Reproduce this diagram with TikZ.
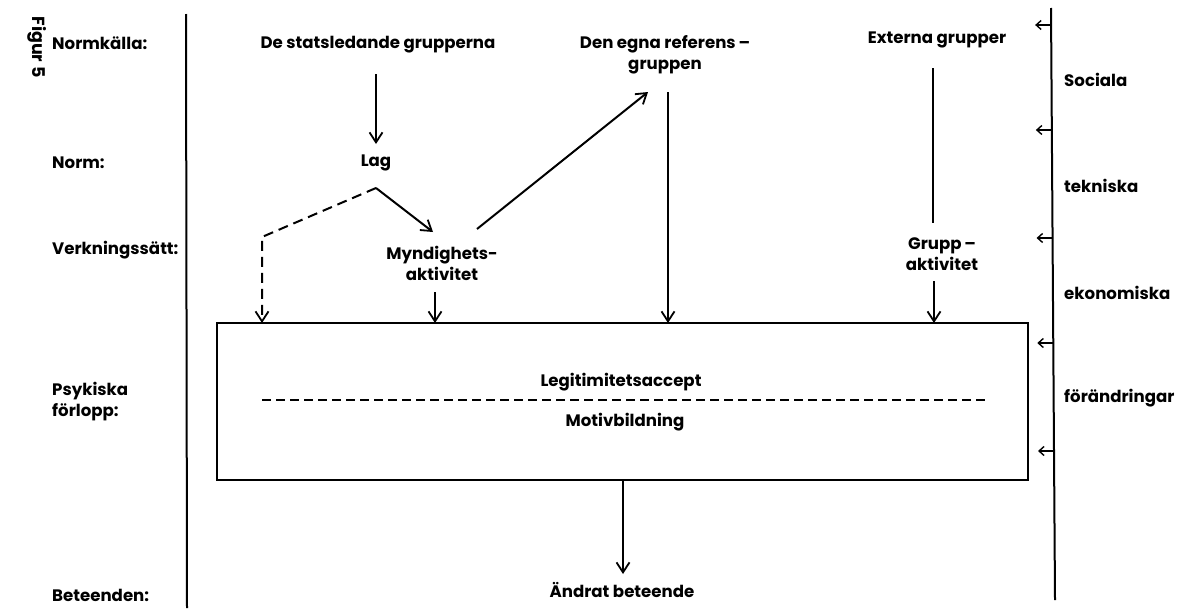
\documentclass[tikz,border=0pt]{standalone}
\usepackage{fontspec}
\setmainfont{Poppins}
\usetikzlibrary{arrows.meta,calc}
\tikzset{
  txt/.style={inner sep=1pt, font=\fontsize{16.6}{21}\selectfont\bfseries, align=center},
  lbl/.style={txt, anchor=west, align=left},
  ln/.style={line width=2pt},
  arr/.style={ln, -{Straight Barb[length=10pt,width=13pt,line width=1.8pt]}},
  sarr/.style={line width=1.5pt, -{Straight Barb[length=5pt,width=9pt,line width=1.4pt]}},
  dsh/.style={ln, dash pattern=on 10pt off 6pt},
}
\begin{document}
\begin{tikzpicture}[x=1pt,y=-1pt]
\useasboundingbox (0,0) rectangle (1182,608);
% side texts
\node[txt, rotate=-90, font=\fontsize{17.5}{20}\selectfont\bfseries] (fig) at (37,47) {Figur 5};
\node[lbl] (nk) at (51,43) {Normkälla:};
\node[lbl] (nm) at (51,163) {Norm:};
\node[lbl] (vs) at (51,250) {Verkningssätt:};
\node[lbl] (pf) at (51,402) {Psykiska\\förlopp:};
\node[lbl] (bt) at (51,595) {Beteenden:};
% vertical rules
\coordinate (L1) at (186,14);
\coordinate (L2) at (187,608);
\draw[ln] (L1) -- (L2);
\coordinate (R1) at (1051,8);
\coordinate (R2) at (1055,600);
\draw[ln] (R1) -- (R2);
% right labels
\node[lbl] (soc) at (1063,80) {Sociala};
\node[lbl] (tek) at (1063,186) {tekniska};
\node[lbl] (eko) at (1063,293) {ekonomiska};
\node[lbl] (for) at (1063,398) {förändringar};
% small arrows on right rule
\foreach \yy/\nn in {25/a,130/b,238/c,343/d,451/e}{
  \coordinate (rs\nn) at ($(R1)!{(\yy-8)/592}!(R2)$);
  \coordinate (re\nn) at ([xshift=-16pt]rs\nn);
  \draw[sarr] (rs\nn) -- (re\nn);
}
% main nodes
\node[txt] (ds) at (378,45) {De statsledande\ grupperna};
\node[txt] (lag) at (376,163) {Lag};
\node[txt] (myn) at (442,263) {Myndighets-\\aktivitet};
\node[txt] (ref) at (665,55) {Den egna referens\,–\\\hspace*{0pt}gruppen};
\node[txt] (ext) at (937,40) {Externa grupper};
\node[txt] (grp) at (942,254) {Grupp\,–\\aktivitet};
\node[draw, line width=2pt, minimum width=811pt, minimum height=157pt, inner sep=0pt] (box) at (622.5,401.5) {};
\node[txt] (leg) at (621,382) {Legitimitetsaccept};
\node[txt] (mot) at (625,422) {Motivbildning};
\node[txt] (and) at (622,590) {Ändrat beteende};
% connector end points
\coordinate (apex) at (376,188);
\coordinate (dcorner) at (262,237);
\coordinate (dtip) at (262,323);
\coordinate (myntip) at (433,232);
\coordinate (refst) at (477,229);
\coordinate (reftip) at (648,92);
\coordinate (dsout) at (376,74);
\coordinate (lagin) at (376,144);
\coordinate (mynout) at (435,292);
\coordinate (myntobox) at (435,323);
\coordinate (refout) at (668,92);
\coordinate (reftobox) at (668,323);
\coordinate (extout) at (933,68);
\coordinate (grpin) at (933,223);
\coordinate (grpout) at (934,281);
\coordinate (grptobox) at (934,323);
\coordinate (boxout) at (623,480);
\coordinate (andin) at (623,574);
\coordinate (dl1) at (262,400);
\coordinate (dl2) at (985,400);
% connectors
\draw[arr] (dsout) -- (lagin);
\draw[arr] (apex) -- (myntip);
\draw[dsh, -{Straight Barb[length=10pt,width=13pt,line width=1.8pt]}] (apex) -- (dcorner) -- (dtip);
\draw[arr] (mynout) -- (myntobox);
\draw[arr] (refst) -- (reftip);
\draw[arr] (refout) -- (reftobox);
\draw[ln] (extout) -- (grpin);
\draw[arr] (grpout) -- (grptobox);
\draw[dash pattern=on 9pt off 5pt, line width=1.7pt] (dl1) -- (dl2);
\draw[arr] (boxout) -- (andin);
\end{tikzpicture}
\end{document}
